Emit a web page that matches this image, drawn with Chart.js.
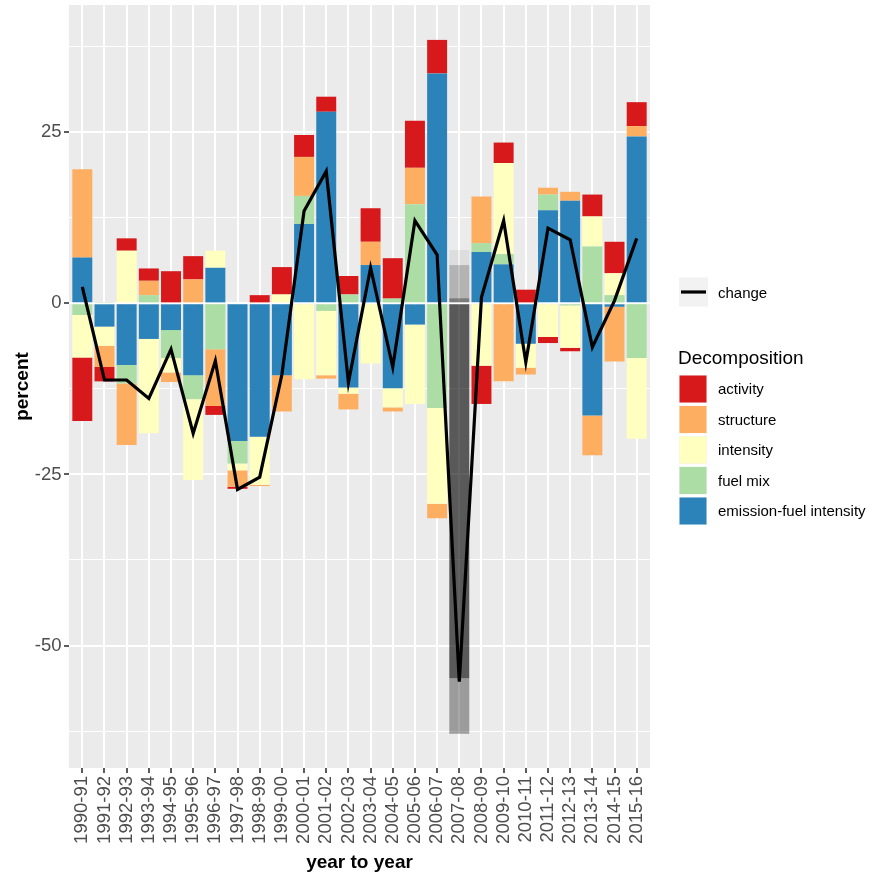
<!DOCTYPE html>
<html>
<head>
<meta charset="utf-8">
<title>Decomposition of year-to-year change</title>
<script src="https://cdn.jsdelivr.net/npm/chart.js@4.4.1/dist/chart.umd.min.js"></script>
<style>
  html, body { margin: 0; padding: 0; background: #ffffff; }
  canvas { display: block; }
</style>
</head>
<body>
<canvas id="chart" width="869" height="874" style="width:869px;height:874px"></canvas>
<script>
// ---- data (percent) ----
const years = [
  '1990-91', '1991-92', '1992-93', '1993-94', '1994-95', '1995-96', '1996-97',
  '1997-98', '1998-99', '1999-00', '2000-01', '2001-02', '2002-03', '2003-04',
  '2004-05', '2005-06', '2006-07', '2007-08', '2008-09', '2009-10', '2010-11',
  '2011-12', '2012-13', '2013-14', '2014-15', '2015-16'
];

const activity = [
  -9.3, -2.1, 1.8, 1.8, 4.7, 3.4, -1.3, -0.3, 1.2, 4.0, 3.2, 2.2, 2.7, 4.9,
  5.9, 6.9, 4.9, -8.1, -5.6, 3.0, 2.0, -0.9, -0.5, 3.2, 4.6, 3.5
];
const structure = [
  12.9, -3.1, -9.0, 2.1, -1.4, 3.5, -8.3, -2.4, -0.2, -5.3, 5.7, -0.5, -2.3, 3.4,
  -0.6, 5.3, -2.1, -54.8, 6.8, -11.4, -1.0, 1.0, 1.3, -5.8, -8.0, 1.5
];
const intensity = [
  -6.2, -2.8, 7.7, -13.8, -2.1, -11.8, 2.5, -1.0, -7.0, 1.3, -11.1, -9.4, -0.9, -8.8,
  -2.8, -11.6, -14.0, 2.2, -9.1, 13.3, -3.5, -4.9, -6.2, 4.4, 3.2, -11.8
];
const fuelMix = [
  -1.7, 0.2, -2.7, 1.2, -4.1, -3.5, -6.7, -3.3, 0, 0, 4.1, -1.1, 1.3, 0,
  0.7, 14.5, -15.3, 4.85, 1.3, 1.5, 0, 2.3, -0.3, 8.3, 1.2, -8.0
];
const emissionFuel = [
  6.7, -3.4, -9.0, -5.2, -3.9, -10.5, 5.2, -20.1, -19.5, -10.5, 11.6, 28.0, -12.3, 5.6,
  -12.4, -3.1, 33.6, 0.75, 7.5, 5.7, -5.9, 13.6, 15.0, -16.4, -0.5, 24.4
];
const change = [
  2.4, -11.2, -11.2, -13.9, -6.7, -19.0, -8.4, -27.2, -25.4, -10.4, 13.5, 19.3, -11.6, 5.2,
  -9.3, 12.1, 7.1, -55.3, 0.9, 12.1, -8.6, 11.0, 9.3, -6.4, 0.4, 9.5
];

// y axis: labelled breaks and the unlabelled minor breaks between them
const yBreaks = [-50, -25, 0, 25];
const yMinorBreaks = [-62.5, -37.5, -12.5, 12.5, 37.5];

// the 2007-08 bar is shown in muted greys
const mutedYear = '2007-08';

// ---- styling ----
const FONT = '"Liberation Sans", Arial, Helvetica, sans-serif';
const PANEL = '#EBEBEB';
const AXIS_TEXT = 18.5;

// stacking order: first entry sits next to zero
const components = [
  { name: 'emission-fuel intensity', values: emissionFuel, color: '#2B83BA', muted: 'rgba(0,0,0,0.48)' },
  { name: 'fuel mix',                values: fuelMix,      color: '#ABDDA4', muted: 'rgba(0,0,0,0.235)' },
  { name: 'intensity',               values: intensity,    color: '#FFFFBF', muted: 'rgba(0,0,0,0.06)' },
  { name: 'structure',               values: structure,    color: '#FDAE61', muted: 'rgba(0,0,0,0.62)' },
  { name: 'activity',                values: activity,     color: '#D7191C', muted: 'rgba(0,0,0,0.34)' }
];
// legend lists them top-down
const legendOrder = ['activity', 'structure', 'intensity', 'fuel mix', 'emission-fuel intensity'];

const yGrid = [...yBreaks, ...yMinorBreaks].sort((a, b) => a - b);
const isMajor = v => yBreaks.includes(v);

const barDatasets = components.map(c => ({
  type: 'bar',
  label: c.name,
  data: c.values,
  backgroundColor: years.map(y => (y === mutedYear ? c.muted : c.color)),
  borderWidth: 0,
  stack: 'decomposition',
  order: 1,
  categoryPercentage: 0.9,
  barPercentage: 1.0
}));

const lineDataset = {
  type: 'line',
  label: 'change',
  data: change,
  borderColor: '#000000',
  borderWidth: 3.2,
  pointRadius: 0,
  pointHoverRadius: 0,
  fill: false,
  tension: 0,
  stack: 'change',
  order: 0
};

// panel background, axis titles and the two-part legend
const decorations = {
  id: 'decorations',
  beforeDraw(chart) {
    const { ctx, chartArea: a } = chart;
    ctx.save();
    ctx.fillStyle = '#ffffff';
    ctx.fillRect(0, 0, chart.width, chart.height);
    ctx.fillStyle = PANEL;
    ctx.fillRect(a.left, a.top, a.right - a.left, a.bottom - a.top);
    ctx.restore();
  },
  afterDraw(chart) {
    const { ctx, chartArea: a } = chart;
    ctx.save();

    // axis titles
    ctx.fillStyle = '#000000';
    ctx.font = `bold 19px ${FONT}`;
    ctx.textAlign = 'center';
    ctx.textBaseline = 'alphabetic';
    ctx.fillText('year to year', (a.left + a.right) / 2, 868);

    ctx.save();
    ctx.translate(27.5, (a.top + a.bottom) / 2);
    ctx.rotate(-Math.PI / 2);
    ctx.fillText('percent', 0, 0);
    ctx.restore();

    // legend: line key
    const keyX = 679, keyW = 28;
    ctx.fillStyle = '#F2F2F2';
    ctx.fillRect(keyX, 277.5, keyW + 1, keyW + 1);
    ctx.strokeStyle = '#000000';
    ctx.lineWidth = 3.2;
    ctx.beginPath();
    ctx.moveTo(keyX + 2, 292);
    ctx.lineTo(keyX + keyW - 1, 292);
    ctx.stroke();

    ctx.fillStyle = '#000000';
    ctx.font = `15px ${FONT}`;
    ctx.textAlign = 'left';
    ctx.fillText('change', 718, 297.5);

    // legend: fill keys
    ctx.font = `19px ${FONT}`;
    ctx.fillText('Decomposition', 678, 363.5);

    ctx.font = `15px ${FONT}`;
    legendOrder.forEach((name, i) => {
      const c = components.find(k => k.name === name);
      const y = 375 + i * 30.5;
      ctx.fillStyle = '#F2F2F2';
      ctx.fillRect(keyX, y, keyW, keyW);
      ctx.fillStyle = c.color;
      ctx.fillRect(keyX + 0.5, y + 0.5, keyW - 1, keyW - 1);
      ctx.fillStyle = '#000000';
      ctx.fillText(name, 718, y + keyW / 2 + 5.4);
    });

    ctx.restore();
  }
};

new Chart(document.getElementById('chart'), {
  type: 'bar',
  data: {
    labels: years.map((_, i) => i),
    datasets: [lineDataset, ...barDatasets]
  },
  options: {
    responsive: false,
    animation: false,
    devicePixelRatio: 1,
    layout: { padding: { top: 5, right: 219, bottom: 0, left: 0 } },
    plugins: {
      legend: { display: false },
      tooltip: { enabled: false }
    },
    scales: {
      x: {
        type: 'linear',
        min: -0.6,
        max: 25.6,
        offset: false,
        stacked: true,
        afterBuildTicks(scale) {
          scale.ticks = years.map((_, i) => ({ value: i }));
        },
        ticks: {
          autoSkip: false,
          minRotation: 90,
          maxRotation: 90,
          padding: 3,
          color: '#4D4D4D',
          font: { family: FONT, size: AXIS_TEXT },
          callback: v => years[v]
        },
        grid: {
          offset: false,
          color: '#ffffff',
          lineWidth: 2,
          drawTicks: true,
          tickLength: 5,
          tickColor: '#333333',
          tickWidth: 1.6
        },
        border: { display: false },
        afterFit(scale) {
          scale.height = 106;
          scale.paddingLeft = 0;
          scale.paddingRight = 0;
        }
      },
      y: {
        type: 'linear',
        min: -67.9,
        max: 43.6,
        stacked: true,
        afterBuildTicks(scale) {
          scale.ticks = yGrid.map(v => ({ value: v }));
        },
        ticks: {
          padding: 2.5,
          color: '#4D4D4D',
          font: { family: FONT, size: AXIS_TEXT },
          callback: v => (isMajor(v) ? String(v) : '')
        },
        grid: {
          color: '#ffffff',
          lineWidth: ctx => (ctx.tick && isMajor(ctx.tick.value) ? 2 : 1),
          drawTicks: true,
          tickLength: 5,
          tickColor: ctx => (ctx.tick && isMajor(ctx.tick.value) ? '#333333' : 'rgba(0,0,0,0)'),
          tickWidth: 1.6
        },
        border: { display: false },
        afterFit(scale) {
          scale.width = 69;
          scale.paddingTop = 0;
          scale.paddingBottom = 0;
        }
      }
    }
  },
  plugins: [decorations]
});
</script>
</body>
</html>
